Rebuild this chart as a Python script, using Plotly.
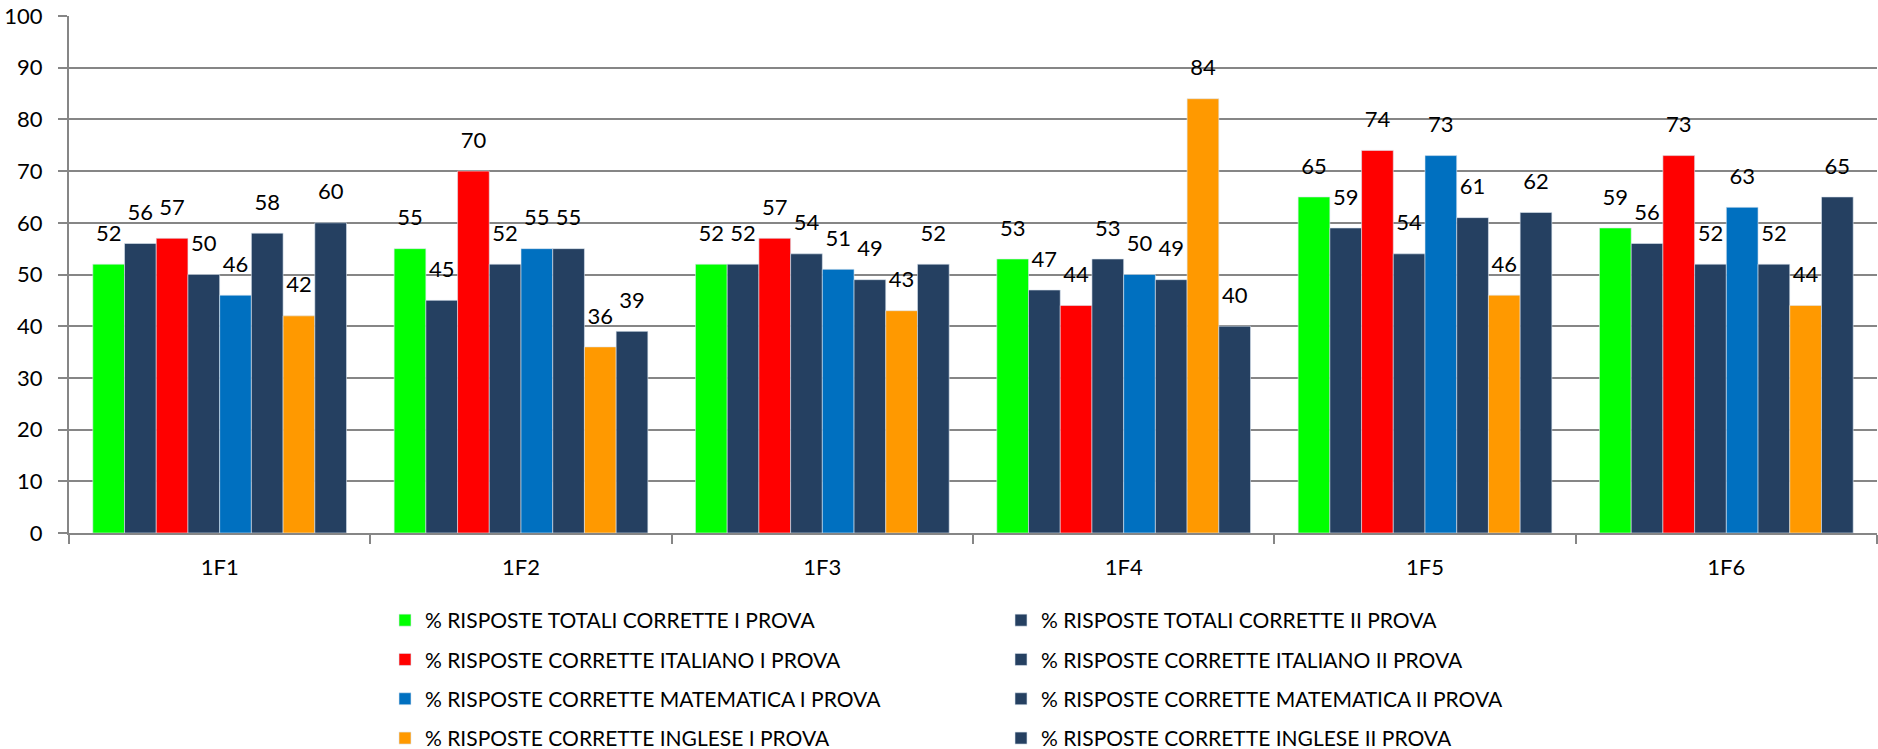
import plotly.graph_objects as go

classes = ["1F1", "1F2", "1F3", "1F4", "1F5", "1F6"]

totali_1 = [52, 55, 52, 53, 65, 59]
totali_2 = [56, 45, 52, 47, 59, 56]
italiano_1 = [57, 70, 57, 44, 74, 73]
italiano_2 = [50, 52, 54, 53, 54, 52]
matematica_1 = [46, 55, 51, 50, 73, 63]
matematica_2 = [58, 55, 49, 49, 61, 52]
inglese_1 = [42, 36, 43, 84, 46, 44]
inglese_2 = [60, 39, 52, 40, 62, 65]

series_names = [
    "% RISPOSTE TOTALI CORRETTE I PROVA",
    "% RISPOSTE TOTALI CORRETTE II PROVA",
    "% RISPOSTE CORRETTE ITALIANO I PROVA",
    "% RISPOSTE CORRETTE ITALIANO II PROVA",
    "% RISPOSTE CORRETTE MATEMATICA I PROVA",
    "% RISPOSTE CORRETTE MATEMATICA II PROVA",
    "% RISPOSTE CORRETTE INGLESE I PROVA",
    "% RISPOSTE CORRETTE INGLESE II PROVA",
]

y_ticks = list(range(0, 101, 10))

DARK = "#254061"
colors = ["#00FF00", DARK, "#FF0000", DARK, "#0070C0", DARK, "#FF9900", DARK]
values = [totali_1, totali_2, italiano_1, italiano_2,
          matematica_1, matematica_2, inglese_1, inglese_2]

FONT = "Lato"
GAP = 0.158

fig = go.Figure()

# bars
for i, (name, vals, col) in enumerate(zip(series_names, values, colors)):
    fig.add_trace(go.Bar(
        x=classes,
        y=vals,
        name=name,
        marker=dict(color=col, line=dict(color="rgba(220,230,240,0.6)", width=1)),
        legend="legend" if i % 2 == 0 else "legend2",
        legendgroup=name,
        hoverinfo="skip",
    ))

# data labels, grouped the same way as the bars
for i, vals in enumerate(values):
    fig.add_trace(go.Scatter(
        x=classes,
        y=vals,
        text=vals,
        mode="markers+text",
        textposition="top center",
        textfont=dict(family=FONT, size=22, color="black"),
        marker=dict(size=27, opacity=0),
        cliponaxis=False,
        showlegend=False,
        hoverinfo="skip",
    ))

legend_style = dict(
    xref="container", yref="container",
    xanchor="left",
    y=1 - 600 / 749, yanchor="top",
    font=dict(family=FONT, size=21, color="black"),
    tracegroupgap=9,
    itemwidth=30,
    bgcolor="rgba(0,0,0,0)",
)

fig.update_layout(
    width=1878,
    height=749,
    margin=dict(l=69, r=1, t=16, b=216, autoexpand=False),
    paper_bgcolor="white",
    plot_bgcolor="white",
    font=dict(family=FONT, size=22, color="black"),
    barmode="group",
    bargap=GAP,
    bargroupgap=0,
    scattermode="group",
    scattergap=GAP,
    showlegend=True,
    legend=dict(x=385 / 1878, **legend_style),
    legend2=dict(x=1001 / 1878, **legend_style),
)

fig.update_xaxes(
    showline=True, linecolor="#868686", linewidth=2,
    ticks="outside", tickson="boundaries", ticklen=9, tickcolor="#868686", tickwidth=2,
    ticklabelstandoff=14,
    showgrid=False,
    tickfont=dict(family=FONT, size=22),
)
fig.update_yaxes(
    range=[0, 100], tickvals=y_ticks,
    showline=True, linecolor="#868686", linewidth=2,
    ticks="outside", ticklen=9, tickcolor="#868686", tickwidth=2,
    ticklabelstandoff=11,
    showgrid=True, gridcolor="#868686", gridwidth=2,
    zeroline=False,
    tickfont=dict(family=FONT, size=22),
)

# drop the default body margin so the figure fills the window exactly
fig.write_html(
    "out.html",
    config={"displayModeBar": False},
    post_script="document.body.style.margin='0';",
)
